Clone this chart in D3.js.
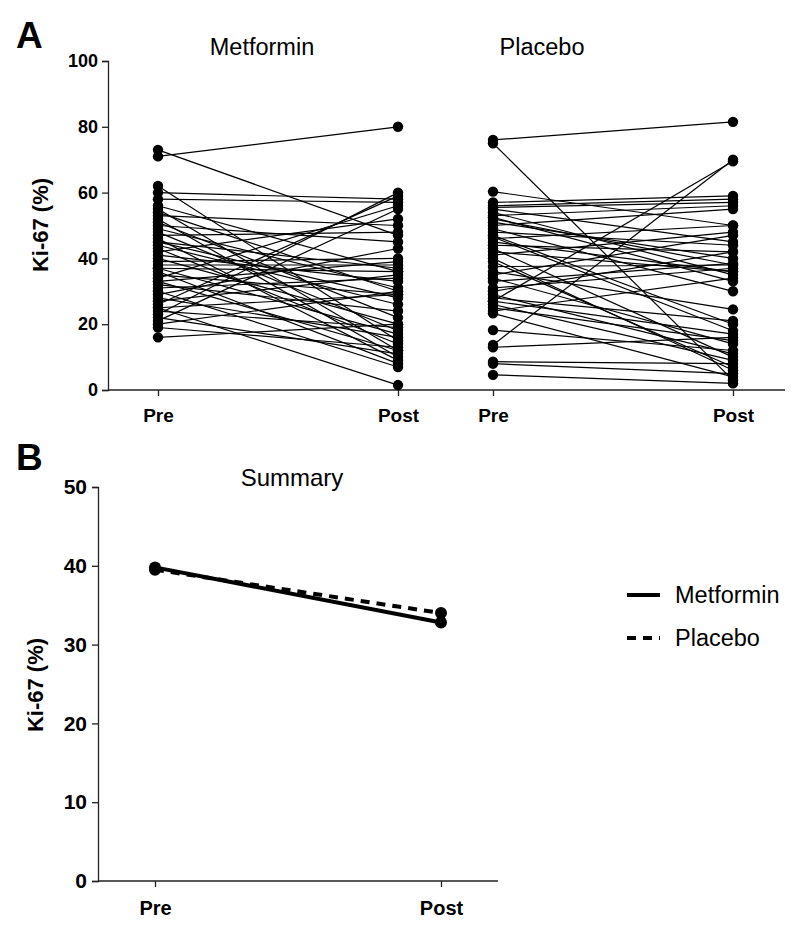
<!DOCTYPE html>
<html><head><meta charset="utf-8">
<script src="https://cdn.jsdelivr.net/npm/d3@7"></script>
<style>
body{margin:0;background:#fff;}
text{font-family:"Liberation Sans",Arial,Helvetica,sans-serif;fill:#000;}
</style></head>
<body><svg id="c" width="800" height="933"></svg>
<script>
// ---- data ----
const timepoints = ["Pre","Post"];
const metforminPre  = [71,73,16,25,62,60,58,56,55,54,53,52,51,50,49,48,47,46,45,44,43,42,41,40,39,38,37,37,36,35,34,33,32,31,30,29,28,27,26,25,24,23,22,21,20,19,33,45];
const metforminPost = [80,47,20,1.5,15,58,57,36,12,30,50,10,22,45,31,18,48,9,37,26,14,52,33,20,40,38,36,17,8,29,56,12,24,34,7,43,16,35,59,29,19,60,11,55,30,13,39,28];
const placeboPre  = [76,75,13.7,27,4.6,8.6,8,18.2,13,60.3,57,56,55.5,55,54,53,52,51,50,49,48,47,46,45,44,43,42,41,40,37.5,36,35,34,33,31,30,28,27,26,25,24,23.3,52.5,46.5,39,29];
const placeboPost = [81.5,3,70,69.5,2,8,5,12,16,50,59,58,57,45,35,56,38,40,55,30,44,20,50,36,42,10,36,48,6,38,24.5,47,14,38.5,37,42,21,17,9,15,34,4,33,18,7,11];
const panelAYTicks = [0,20,40,60,80,100];
const summarySeries = ["Metformin","Placebo"];
const summaryMetformin = [39.8,32.8];
const summaryPlacebo = [39.5,34.0];
const panelBYTicks = [0,10,20,30,40,50];

const svg = d3.select("#c");
const FONT = '"Liberation Sans",Arial,Helvetica,sans-serif';

// ---- Panel A ----
const yA = d3.scaleLinear().domain([0,100]).range([390,61]);
const xMet = d3.scalePoint().domain(timepoints).range([158,398]);
const xPla = d3.scalePoint().domain(timepoints).range([493,733]);

const gA = svg.append("g");
const yAxisA = gA.append("g").attr("transform","translate(108,0)")
  .call(d3.axisLeft(yA).tickValues(panelAYTicks).tickSize(6).tickPadding(4));
const xAxisMet = gA.append("g").attr("transform","translate(0,390)")
  .call(d3.axisBottom(xMet).tickSize(6).tickPadding(13));
const xAxisPla = gA.append("g").attr("transform","translate(0,390)")
  .call(d3.axisBottom(xPla).tickSize(6).tickPadding(13));
xAxisMet.select(".domain").attr("d","M108,0H448");
xAxisPla.select(".domain").attr("d","M448,0H785");

function styleAxis(g,size){
  g.select(".domain").attr("stroke","#222").attr("stroke-width",1.3);
  g.selectAll(".tick line").attr("stroke","#222").attr("stroke-width",1.3);
  g.selectAll(".tick text").attr("font-family",FONT).attr("font-weight","bold").attr("font-size",size).attr("fill","#000");
}
styleAxis(yAxisA,18); styleAxis(xAxisMet,19); styleAxis(xAxisPla,19);

function spaghetti(pre,post,x){
  const g = gA.append("g");
  const pairs = pre.map((p,i)=>[p,post[i]]);
  g.selectAll("line.s").data(pairs).join("line")
    .attr("x1",x("Pre")).attr("x2",x("Post"))
    .attr("y1",d=>yA(d[0])).attr("y2",d=>yA(d[1]))
    .attr("stroke","#000").attr("stroke-width",1.2);
  g.selectAll("circle.pre").data(pre).join("circle")
    .attr("cx",x("Pre")).attr("cy",d=>yA(d)).attr("r",5.2).attr("fill","#000");
  g.selectAll("circle.post").data(post).join("circle")
    .attr("cx",x("Post")).attr("cy",d=>yA(d)).attr("r",5.2).attr("fill","#000");
}
spaghetti(metforminPre,metforminPost,xMet);
spaghetti(placeboPre,placeboPost,xPla);

gA.append("text").attr("x",262).attr("y",55).attr("text-anchor","middle").attr("font-size",23.5).text("Metformin");
gA.append("text").attr("x",542).attr("y",55).attr("text-anchor","middle").attr("font-size",23.5).text("Placebo");
gA.append("text").attr("transform","translate(48,225) rotate(-90)").attr("text-anchor","middle")
  .attr("font-size",22).attr("font-weight","bold").text("Ki-67 (%)");
svg.append("text").attr("x",16).attr("y",48).attr("font-size",37).attr("font-weight","bold").text("A");

// ---- Panel B ----
const yB = d3.scaleLinear().domain([0,50]).range([881,487]);
const xB = d3.scalePoint().domain(timepoints).range([155,441]);
const gB = svg.append("g");
const yAxisB = gB.append("g").attr("transform","translate(98,0)")
  .call(d3.axisLeft(yB).tickValues(panelBYTicks).tickSize(6).tickPadding(5));
const xAxisB = gB.append("g").attr("transform","translate(0,881)")
  .call(d3.axisBottom(xB).tickSize(6).tickPadding(14));
xAxisB.select(".domain").attr("d","M98,0H498");
styleAxis(yAxisB,21); styleAxis(xAxisB,20);

const lineGen = d3.line().x((d,i)=>xB(timepoints[i])).y(d=>yB(d));
const series = [
  {name:summarySeries[1], vals:summaryPlacebo, dash:"9,7"},
  {name:summarySeries[0], vals:summaryMetformin, dash:null}
];
series.forEach(s=>{
  gB.append("path").attr("d",lineGen(s.vals)).attr("fill","none").attr("stroke","#000")
    .attr("stroke-width",4).attr("stroke-dasharray",s.dash);
  gB.selectAll(null).data(s.vals).join("circle")
    .attr("cx",(d,i)=>xB(timepoints[i])).attr("cy",d=>yB(d)).attr("r",6).attr("fill","#000");
});

gB.append("text").attr("x",292).attr("y",486).attr("text-anchor","middle").attr("font-size",24).text("Summary");
gB.append("text").attr("transform","translate(43,685) rotate(-90)").attr("text-anchor","middle")
  .attr("font-size",22).attr("font-weight","bold").text("Ki-67 (%)");
svg.append("text").attr("x",16).attr("y",470).attr("font-size",37).attr("font-weight","bold").text("B");

// legend
const leg = svg.append("g");
[{name:summarySeries[0],dash:null,y:595},{name:summarySeries[1],dash:"9,7",y:638}].forEach(l=>{
  leg.append("line").attr("x1",627).attr("x2",660).attr("y1",l.y).attr("y2",l.y)
    .attr("stroke","#000").attr("stroke-width",4).attr("stroke-dasharray",l.dash);
  leg.append("text").attr("x",675).attr("y",l.y+8).attr("font-size",23.5).text(l.name);
});
</script></body></html>
